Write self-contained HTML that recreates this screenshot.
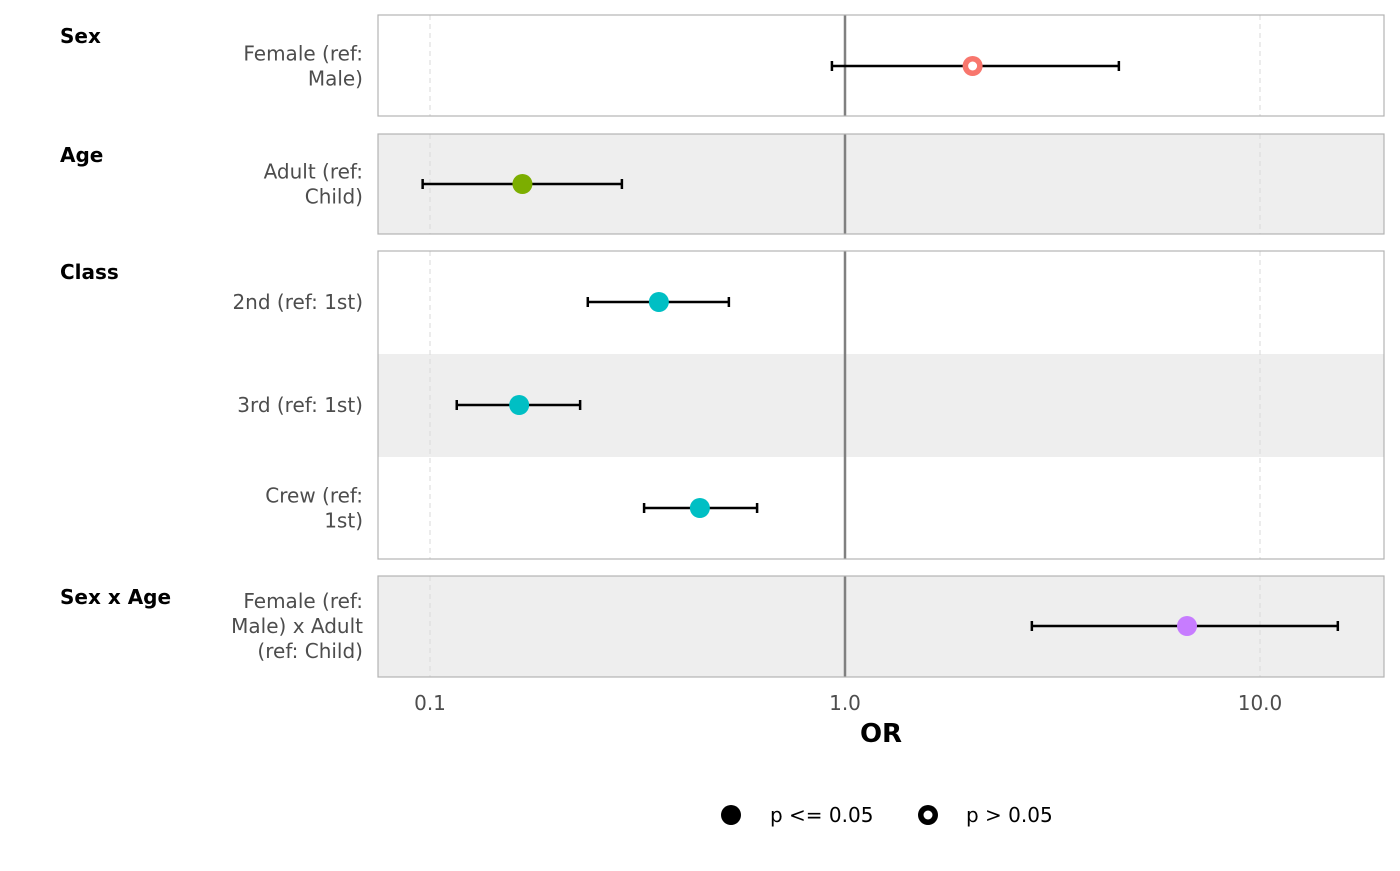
<!DOCTYPE html>
<html><head><meta charset="utf-8"><style>
body{margin:0;background:#fff;font-family:"Liberation Sans","DejaVu Sans",sans-serif}
</style></head><body>
<svg id="chart" width="1400" height="866" xmlns="http://www.w3.org/2000/svg" font-family="DejaVu Sans, Liberation Sans, sans-serif">
<g id="bg"></g><g id="grid"></g><g id="marks"></g><g id="labels"></g>
<g>
<circle cx="731" cy="815" r="10" fill="#000"/>
<text x="770" y="822" font-size="20" fill="#000">p &lt;= 0.05</text>
<circle cx="928" cy="815" r="10" fill="#000"/>
<circle cx="928" cy="815" r="4.5" fill="#fff"/>
<text x="966" y="822" font-size="20" fill="#000">p &gt; 0.05</text>
</g>
<text x="881" y="742" font-size="26" font-weight="bold" text-anchor="middle">OR</text>
</svg>
<script>
const labels=[["Female (ref:","Male)"],["Adult (ref:","Child)"],["2nd (ref: 1st)"],["3rd (ref: 1st)"],["Crew (ref:","1st)"],["Female (ref:","Male) x Adult","(ref: Child)"]];
const estimates=[2.03,0.167,0.356,0.164,0.447,6.67];
const lower=[0.93,0.096,0.24,0.116,0.328,2.82];
const upper=[4.57,0.29,0.525,0.23,0.614,15.4];
const significant=[false,true,true,true,true,true];
const groupIndex=[0,1,2,2,2,3];
const groups=["Sex","Age","Class","Sex x Age"];
const colors=["#F8766D","#7CAE00","#00BFC4","#C77CFF"];
const ticks=[0.1,1.0,10.0];
const tickLabels=["0.1","1.0","10.0"];

const NS="http://www.w3.org/2000/svg";
const xs=v=>845+415*Math.log10(v);
const rowY=[66,184,302,405,508,626];
const panels=[[15,116],[134,234],[251,559],[576,677]];
function mk(p,tag,a){const e=document.createElementNS(NS,tag);for(const k in a)e.setAttribute(k,a[k]);document.getElementById(p).appendChild(e);return e;}
// row backgrounds
let shade=[false,true,false,true,false,true];
rowY.forEach((y,i)=>{const g=groupIndex[i];const [t,b]=panels[g];
 let top=g===2?251+103*(i-2):t, h=g===2?103:b-t;
 if(shade[i]){const r=mk('bg','rect',{x:378,y:top,width:1006,height:h,fill:'#eeeeee'});
 
 }
});
panels.forEach((p,g)=>{
 ticks.forEach((t,k)=>{if(k!==1){const l=mk('grid','line',{x1:xs(t),x2:xs(t),y1:p[0],y2:p[1],stroke:'#d9d9d9','stroke-dasharray':'5,4','stroke-width':1});
 
 }});
 const r=mk('grid','line',{x1:xs(1),x2:xs(1),y1:p[0],y2:p[1],stroke:'#808080','stroke-width':2.5});
 
 
 const f=mk('grid','rect',{x:378,y:p[0],width:1006,height:p[1]-p[0],fill:'none',stroke:'#b3b3b3','stroke-width':1.2});
 
 
 const gt=mk('labels','text',{x:60,y:p[0]+28,'font-size':20,'font-weight':'bold',fill:'#000'});
 gt.textContent=groups[g];
 
 
});
ticks.forEach((t,k)=>{const e=mk('labels','text',{x:xs(t),y:710,'font-size':20,fill:'#4d4d4d','text-anchor':'middle'});
 e.textContent=tickLabels[k];
 
 });
estimates.forEach((v,i)=>{const y=rowY[i];
 const ci=mk('marks','g',{});
 
 
 const a=xs(lower[i]),b=xs(upper[i]);
 [[a,y,b,y],[a,y-5,a,y+5],[b,y-5,b,y+5]].forEach(c=>{const l=document.createElementNS(NS,'line');l.setAttribute('x1',c[0]);l.setAttribute('y1',c[1]);l.setAttribute('x2',c[2]);l.setAttribute('y2',c[3]);l.setAttribute('stroke','#000');l.setAttribute('stroke-width',2.5);ci.appendChild(l);});
 const c=mk('marks','circle',{cx:xs(v),cy:y,r:10,fill:colors[groupIndex[i]]});
 
 
 if(!significant[i]){const w=mk('marks','circle',{cx:xs(v),cy:y,r:4.5,fill:'#fff'});
 
 }
 const lines=labels[i];const n=lines.length;
 lines.forEach((s,j)=>{const e=mk('labels','text',{x:363,y:y+7+(j-(n-1)/2)*25,'font-size':20,fill:'#4d4d4d','text-anchor':'end'});
 e.textContent=s;
 
 });
});
</script>
</body></html>
